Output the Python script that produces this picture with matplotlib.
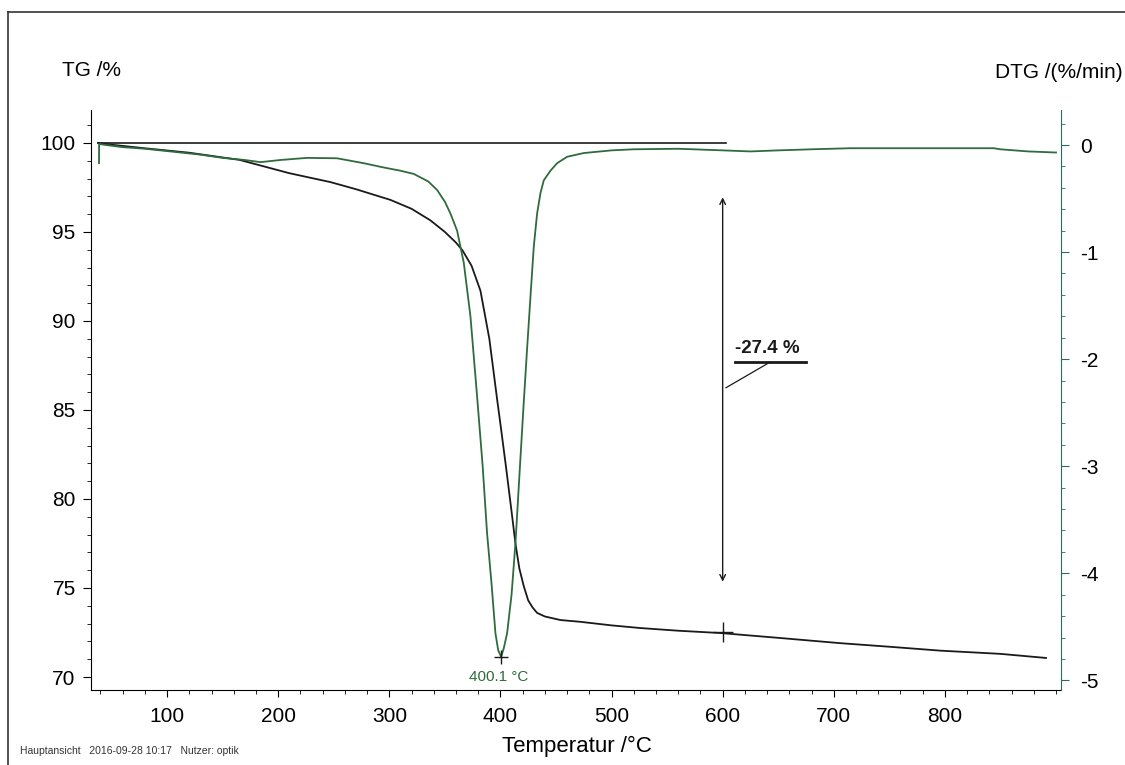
import matplotlib
matplotlib.use("Agg")
import matplotlib.pyplot as plt
from matplotlib.ticker import MultipleLocator
from matplotlib.lines import Line2D

plt.rcParams.update({"font.family": "Liberation Sans", "font.size": 15})

GREEN = "#2f6b3c"
BLACK = "#1a1a1a"

# TG curve (temperature in °C, mass in %)
tg_temp = [38, 50, 80, 120, 165, 210, 247, 270, 301, 320, 337, 350, 360, 366,
           374, 382, 390, 397, 400, 405, 410, 413.5, 417, 421, 425, 429, 433,
           440, 454, 472, 500, 526, 560, 598, 650, 706, 750, 796, 850, 891]
tg_mass = [100.0, 99.9, 99.7, 99.45, 99.05, 98.3, 97.8, 97.4, 96.8, 96.3,
           95.65, 95.0, 94.4, 93.95, 93.1, 91.7, 89.0, 85.6, 84.2, 81.8, 79.3,
           77.5, 76.1, 75.1, 74.3, 73.9, 73.6, 73.4, 73.2, 73.1, 72.9, 72.75,
           72.6, 72.47, 72.2, 71.9, 71.7, 71.48, 71.3, 71.07]

# DTG curve (%/min)
dtg_temp = [38.7, 38.8, 45, 60, 80, 103, 130, 150, 170, 184, 202, 226, 253,
            277, 295, 310, 322, 335, 343, 350, 355, 361, 367, 373, 379, 384,
            388, 392, 395.5, 398, 400.6, 403, 406, 410, 413.5, 417, 421, 424,
            427, 430, 433, 436, 439, 445, 451, 460, 475, 500, 520, 560, 600,
            625, 650, 680, 715, 760, 800, 844, 850, 875, 900]
dtg_rate = [-0.17, 0.01, 0.0, -0.02, -0.035, -0.06, -0.09, -0.12, -0.14,
            -0.16, -0.14, -0.12, -0.124, -0.17, -0.21, -0.24, -0.27, -0.34,
            -0.42, -0.53, -0.64, -0.8, -1.1, -1.6, -2.35, -3.0, -3.63, -4.1,
            -4.56, -4.72, -4.78, -4.7, -4.56, -4.2, -3.72, -3.1, -2.4, -1.9,
            -1.42, -0.95, -0.64, -0.45, -0.33, -0.24, -0.17, -0.11, -0.075,
            -0.05, -0.04, -0.035, -0.05, -0.06, -0.05, -0.04, -0.03, -0.03,
            -0.03, -0.03, -0.04, -0.06, -0.07]

peak_temp, peak_rate = 400.1, -4.78
step_temp, step_mass = 600, 72.5
arrow_top, arrow_bottom = 97.1, 75.2
ref_start, ref_end, ref_level = 38, 603, 100.0
loss_label = "-27.4 %"

W, H = 1125, 765
fig = plt.figure(figsize=(W / 100, H / 100), dpi=100)
ax = fig.add_axes([91 / W, 1 - 690 / H, (1061 - 91) / W, (690 - 110) / H])
ax2 = ax.twinx()

ax.set_xlim(31.5, 904.5)
ax.set_ylim(69.27, 101.85)
ax2.set_ylim(-5.09, 0.327)

ax.plot(tg_temp, tg_mass, color=BLACK, lw=1.3)
ax.plot([ref_start, ref_end], [ref_level, ref_level], color=BLACK, lw=1.2)
ax.plot(step_temp, step_mass, marker="+", ms=14, mew=1.0, color=BLACK)
ax.annotate("", xy=(step_temp, arrow_top), xytext=(step_temp, arrow_bottom),
            arrowprops=dict(arrowstyle="<->", lw=1.0, color=BLACK,
                            mutation_scale=10))
# bold label with underline and leader to the arrow
ax.text(step_temp + 11.5, 88.2, loss_label, fontsize=13.5, fontweight="bold",
        color=BLACK, ha="left", va="baseline")
ax.plot([step_temp + 11.5, step_temp + 75], [87.7, 87.7], color=BLACK, lw=2.0)
ax.plot([step_temp + 43, step_temp + 3], [87.7, 86.25], color=BLACK, lw=0.9)

ax2.plot(dtg_temp, dtg_rate, color=GREEN, lw=1.3)
ax2.plot(peak_temp, peak_rate, marker="+", ms=10, mew=1.0, color=BLACK)
ax2.text(peak_temp - 2, peak_rate - 0.12, f"{peak_temp} °C", color=GREEN,
         fontsize=11, ha="center", va="top")

for a in (ax, ax2):
    a.spines["top"].set_visible(False)
ax.spines["right"].set_visible(False)
ax2.spines["left"].set_visible(False)
ax2.spines["bottom"].set_visible(False)
ax2.spines["right"].set_color("#2f6b5c")

ax.xaxis.set_major_locator(MultipleLocator(100))
ax.xaxis.set_minor_locator(MultipleLocator(20))
ax.yaxis.set_major_locator(MultipleLocator(5))
ax.yaxis.set_minor_locator(MultipleLocator(1))
ax2.yaxis.set_major_locator(MultipleLocator(1))
ax2.yaxis.set_minor_locator(MultipleLocator(0.2))
ax.set_xticks(range(100, 900, 100))
ax.tick_params(axis="x", which="major", length=5, pad=7)
ax.tick_params(axis="x", which="minor", length=3)
ax.tick_params(axis="y", which="major", length=6, pad=5)
ax.tick_params(axis="y", which="minor", length=3)
ax2.tick_params(axis="y", which="major", length=6, pad=8, color="#2f6b5c")
ax2.tick_params(axis="y", which="minor", length=3, color="#2f6b5c")
ax2.set_yticks([0, -1, -2, -3, -4, -5])
ax2.set_yticklabels(["0", "-1", "-2", "-3", "-4", "-5"])

fig.text(62 / W, 1 - 70 / H, "TG /%", fontsize=15, va="center", ha="left")
fig.text(1123 / W, 1 - 72 / H, "DTG /(%/min)", fontsize=15, va="center",
         ha="right")
fig.text(577 / W, 1 - 746 / H, "Temperatur /°C", fontsize=16, va="center",
         ha="center")
fig.text(20 / W, 1 - 751 / H, "Hauptansicht   2016-09-28 10:17   Nutzer: optik",
         fontsize=7.5, color="#333333", va="center", ha="left")

# outer frame of the printed page
fig.add_artist(Line2D([8 / W, 8 / W], [0, 1 - 12 / H], color="#333333",
                      lw=1.2, transform=fig.transFigure))
fig.add_artist(Line2D([8 / W, 1], [1 - 12 / H, 1 - 12 / H], color="#333333",
                      lw=1.2, transform=fig.transFigure))

fig.savefig("out.png", dpi=100)
